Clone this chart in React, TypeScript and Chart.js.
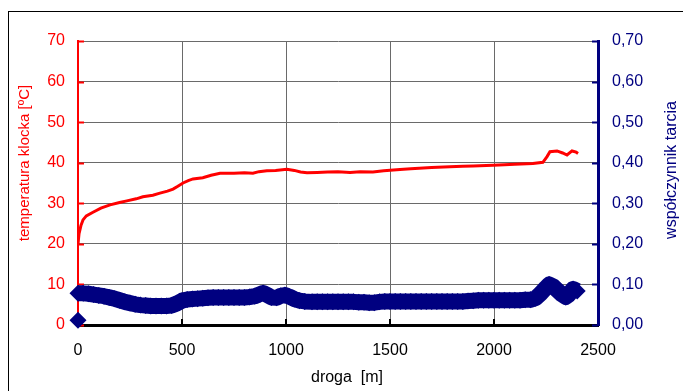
import React, { useEffect, useRef } from 'react';
import { Chart, registerables } from 'chart.js';

Chart.register(...registerables);

// ---- data ----
const tempDistance = [
  0, 5, 14, 24, 40, 72, 110, 154, 200, 235, 280, 312, 360, 394, 430, 457, 480, 505, 530, 553,
  600, 640, 683, 750, 800, 841, 870, 908, 950, 1004, 1040, 1070, 1101, 1150, 1200, 1250, 1308,
  1356, 1418, 1470, 1548, 1600, 1700, 1788, 1850, 1900, 1995, 2050, 2100, 2187, 2235, 2255,
  2269, 2303, 2330, 2351, 2375, 2395, 2404,
];
const temperature = [
  20.0, 22.5, 24.5, 25.9, 26.9, 27.8, 28.8, 29.6, 30.2, 30.6, 31.1, 31.6, 32.0, 32.5, 33.0, 33.5, 34.2, 35.0, 35.6, 36.0,
  36.3, 36.9, 37.4, 37.4, 37.5, 37.4, 37.8, 38.0, 38.1, 38.4, 38.1, 37.7, 37.5, 37.6, 37.7, 37.8, 37.6,
  37.8, 37.7, 38.0, 38.3, 38.5, 38.8, 39.0, 39.1, 39.2, 39.4, 39.5, 39.6, 39.8, 40.1, 41.5,
  42.7, 42.9, 42.4, 41.9, 42.9, 42.6, 42.3,
];

const frictionDistance = [
  0, 0,
  25, 50, 75, 100, 125, 150, 175, 200, 225, 250, 275, 300, 325, 350, 375, 400, 425, 450, 475,
  500, 525, 550, 575, 600, 625, 650, 675, 700, 725, 750, 775, 800, 825, 850, 875,
  890, 910, 930, 955, 975, 995, 1015, 1040, 1065, 1090,
  1125, 1150, 1175, 1200, 1225, 1250, 1275, 1300, 1325, 1350, 1375, 1400, 1425, 1450,
  1475, 1500, 1525, 1550, 1575, 1600, 1625, 1650, 1675, 1700, 1725, 1750, 1775, 1800, 1825, 1850,
  1875, 1900, 1925, 1950, 1975, 2000, 2025, 2050, 2075, 2100, 2125, 2150, 2175, 2200, 2225, 2250,
  2265, 2285, 2300, 2325, 2345, 2360, 2380, 2400,
];
const friction = [
  0.012, 0.078,
  0.078, 0.077, 0.075, 0.073, 0.071, 0.068, 0.065, 0.061, 0.057, 0.054, 0.051, 0.049, 0.048, 0.047, 0.047, 0.047, 0.047, 0.048, 0.053,
  0.060, 0.063, 0.064, 0.065, 0.066, 0.067, 0.068, 0.068, 0.068, 0.068, 0.068, 0.068, 0.068, 0.069, 0.071, 0.076,
  0.079, 0.074, 0.068, 0.067, 0.072, 0.074, 0.070, 0.064, 0.060, 0.058,
  0.057, 0.057, 0.057, 0.057, 0.057, 0.057, 0.057, 0.057, 0.057, 0.056, 0.056, 0.055, 0.055, 0.057,
  0.058, 0.058, 0.058, 0.058, 0.058, 0.058, 0.058, 0.058, 0.058, 0.058, 0.058, 0.058, 0.058, 0.058, 0.058, 0.058,
  0.059, 0.060, 0.061, 0.061, 0.061, 0.061, 0.061, 0.061, 0.061, 0.061, 0.061, 0.062, 0.062, 0.066, 0.078, 0.092,
  0.100, 0.095, 0.088, 0.076, 0.069, 0.075, 0.089, 0.084,
];

const distanceTicks = [0, 500, 1000, 1500, 2000, 2500];
const temperatureTicks = [0, 10, 20, 30, 40, 50, 60, 70];
const frictionTicks = [0, 0.1, 0.2, 0.3, 0.4, 0.5, 0.6, 0.7];

const xTitle = 'droga  [m]';
const yTitle = 'temperatura klocka [ºC]';
const y2Title = 'współczynnik tarcia';

const RED = '#ff0000';
const NAVY = '#000080';
const GRID = '#6a6a6a';
const FONT = '"Liberation Sans", Arial, sans-serif';

const decorPlugin = {
  id: 'decor',
  beforeDatasetsDraw(chart: any) {
    const { ctx, chartArea, scales } = chart;
    const { left, right, bottom } = chartArea;
    ctx.save();
    ctx.lineWidth = 2;
    ctx.strokeStyle = RED;
    temperatureTicks.forEach((v) => {
      const py = Math.round(scales.y.getPixelForValue(v)) + 0.5;
      ctx.beginPath();
      ctx.moveTo(left, py);
      ctx.lineTo(left + 6, py);
      ctx.stroke();
    });
    ctx.strokeStyle = NAVY;
    frictionTicks.forEach((v) => {
      const py = Math.round(scales.y2.getPixelForValue(v)) + 0.5;
      ctx.beginPath();
      ctx.moveTo(right - 6, py);
      ctx.lineTo(right, py);
      ctx.stroke();
    });
    ctx.strokeStyle = '#000';
    distanceTicks.slice(1, -1).forEach((v) => {
      const px = Math.round(scales.x.getPixelForValue(v));
      ctx.beginPath();
      ctx.moveTo(px, bottom - 6);
      ctx.lineTo(px, bottom + 1);
      ctx.stroke();
    });
    ctx.restore();
  },
  afterDraw(chart: any) {
    const { ctx } = chart;
    ctx.save();
    ctx.textAlign = 'center';
    ctx.textBaseline = 'middle';
    ctx.font = `16px ${FONT}`;
    ctx.fillStyle = '#000';
    ctx.fillText(xTitle, 338, 366);

    ctx.save();
    ctx.translate(16, 151);
    ctx.rotate(-Math.PI / 2);
    ctx.font = `15px ${FONT}`;
    ctx.fillStyle = RED;
    ctx.fillText(yTitle, 0, 0);
    ctx.restore();

    ctx.save();
    ctx.translate(663, 158);
    ctx.rotate(-Math.PI / 2);
    ctx.font = `16px ${FONT}`;
    ctx.fillStyle = NAVY;
    ctx.fillText(y2Title, 0, 0);
    ctx.restore();
    ctx.restore();
  },
};

export default function App() {
  const ref = useRef<HTMLCanvasElement>(null);

  useEffect(() => {
    const canvas = ref.current;
    if (!canvas) return;
    const chart = new Chart(canvas, {
      type: 'scatter',
      data: {
        datasets: [
          {
            label: 'temperatura',
            data: tempDistance.map((d, i) => ({ x: d, y: temperature[i] })),
            showLine: true,
            borderColor: RED,
            backgroundColor: RED,
            borderWidth: 3,
            pointRadius: 0,
            tension: 0,
            yAxisID: 'y',
          },
          {
            label: 'tarcie',
            data: frictionDistance.map((d, i) => ({ x: d, y: friction[i] })),
            showLine: true,
            borderWidth: 16,
            borderJoinStyle: 'round',
            borderColor: NAVY,
            segment: {
              borderColor: (c: any) => (c.p0DataIndex === 0 ? 'rgba(0,0,0,0)' : NAVY),
            },
            pointStyle: 'rectRot',
            pointRadius: 8.5,
            pointBorderWidth: 0,
            pointBorderColor: NAVY,
            pointBackgroundColor: NAVY,
            backgroundColor: NAVY,
            yAxisID: 'y2',
            clip: false,
          } as any,
        ],
      },
      options: {
        responsive: false,
        animation: false,
        events: [],
        layout: { padding: { top: 29, left: 0, right: 0, bottom: 0 } },
        plugins: { legend: { display: false }, tooltip: { enabled: false } },
        scales: {
          x: {
            type: 'linear',
            min: 0,
            max: 2500,
            afterBuildTicks: (s: any) => {
              s.ticks = distanceTicks.map((v) => ({ value: v }));
            },
            grid: {
              color: (c: any) =>
                c.tick && (c.tick.value === 0 || c.tick.value === 2500) ? 'rgba(0,0,0,0)' : GRID,
              lineWidth: 1,
              drawTicks: false,
            },
            border: { display: true, color: '#000', width: 3 },
            ticks: {
              color: '#000',
              font: { family: FONT, size: 16 },
              padding: 16,
              maxRotation: 0,
              autoSkip: false,
              callback: (v: any) => String(v),
            },
            afterFit: (s: any) => {
              s.height = 66;
            },
          },
          y: {
            position: 'left',
            min: 0,
            max: 70,
            afterBuildTicks: (s: any) => {
              s.ticks = temperatureTicks.map((v) => ({ value: v }));
            },
            grid: {
              color: (c: any) => (c.tick && c.tick.value === 0 ? 'rgba(0,0,0,0)' : GRID),
              lineWidth: 1,
              drawTicks: false,
            },
            border: { display: true, color: RED, width: 2 },
            ticks: { color: RED, font: { family: FONT, size: 16 }, padding: 13, callback: (v: any) => String(v) },
            afterFit: (s: any) => {
              s.width = 69;
            },
          },
          y2: {
            position: 'right',
            min: 0,
            max: 0.7,
            afterBuildTicks: (s: any) => {
              s.ticks = frictionTicks.map((v) => ({ value: v }));
            },
            grid: { display: false, drawTicks: false },
            border: { display: true, color: NAVY, width: 3 },
            ticks: {
              color: NAVY,
              font: { family: FONT, size: 16 },
              padding: 14,
              callback: (v: any) => Number(v).toFixed(2).replace('.', ','),
            },
            afterFit: (s: any) => {
              s.width = 85;
            },
          },
        },
      },
      plugins: [decorPlugin],
    } as any);
    return () => chart.destroy();
  }, []);

  return (
    <div
      style={{
        position: 'fixed',
        left: 8,
        top: 11,
        width: 675,
        height: 380,
        borderLeft: '1px solid #000',
        borderTop: '1px solid #000',
        background: '#fff',
      }}
    >
      <canvas ref={ref} width={674} height={379} style={{ display: 'block', width: 674, height: 379 }} />
    </div>
  );
}
